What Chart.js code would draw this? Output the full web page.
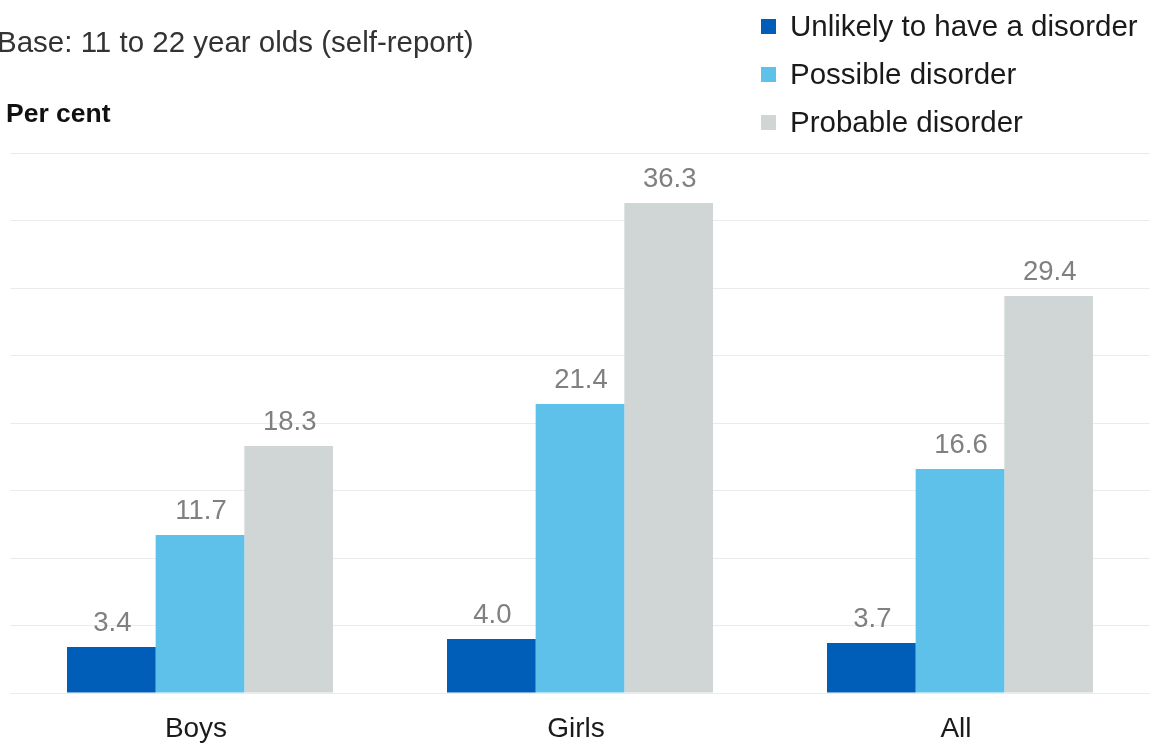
<!DOCTYPE html>
<html>
<head>
<meta charset="utf-8">
<script src="https://cdn.jsdelivr.net/npm/chart.js@4/dist/chart.umd.min.js"></script>
<style>
  body { margin: 0; background: #fff; }
  #wrap { width: 1150px; height: 744px; position: relative; }
</style>
</head>
<body>
<div id="wrap"><canvas id="chart"></canvas></div>
<script>
const categories = ['Boys', 'Girls', 'All'];
const seriesNames = ['Unlikely to have a disorder', 'Possible disorder', 'Probable disorder'];
const unlikely = [3.4, 4.0, 3.7];
const possible = [11.7, 21.4, 16.6];
const probable = [18.3, 36.3, 29.4];
const colours = ['#005EB8', '#5EC1EA', '#D0D6D6'];

const FONT = '"Liberation Sans", Arial, sans-serif';

// text above bars, title, axis caption and legend
const extras = {
    id: 'extras',
    afterDatasetsDraw(chart) {
        const ctx = chart.ctx;
        ctx.save();
        ctx.font = '27.5px ' + FONT;
        ctx.fillStyle = '#808080';
        ctx.textAlign = 'center';
        ctx.textBaseline = 'alphabetic';
        chart.data.datasets.forEach((ds, i) => {
            chart.getDatasetMeta(i).data.forEach((bar, j) => {
                ctx.fillText(ds.data[j].toFixed(1), bar.x + 1, bar.y - 16);
            });
        });
        ctx.restore();
    },
    afterDraw(chart) {
        const ctx = chart.ctx;
        ctx.save();
        ctx.textAlign = 'left';
        ctx.textBaseline = 'alphabetic';

        ctx.font = '29.5px ' + FONT;
        ctx.fillStyle = '#333333';
        ctx.fillText('Base: 11 to 22 year olds (self-report)', -3, 52);

        ctx.font = 'bold 26.5px ' + FONT;
        ctx.fillStyle = '#111111';
        ctx.fillText('Per cent', 6, 122);

        ctx.font = '29.5px ' + FONT;
        chart.data.datasets.forEach((ds, i) => {
            const cy = 26 + i * 48;
            ctx.fillStyle = ds.backgroundColor;
            ctx.fillRect(761, cy - 7, 15, 15);
            ctx.fillStyle = '#1a1a1a';
            ctx.fillText(ds.label, 790, cy + 10);
        });
        ctx.restore();
    }
};

new Chart(document.getElementById('chart'), {
    type: 'bar',
    data: {
        labels: categories,
        datasets: [
            { label: seriesNames[0], data: unlikely, backgroundColor: colours[0] },
            { label: seriesNames[1], data: possible, backgroundColor: colours[1] },
            { label: seriesNames[2], data: probable, backgroundColor: colours[2] }
        ]
    },
    options: {
        responsive: true,
        maintainAspectRatio: false,
        animation: false,
        layout: { padding: { top: 153, left: 10, right: 0, bottom: 0 } },
        datasets: {
            bar: { categoryPercentage: 0.7, barPercentage: 1.0, borderWidth: 0 }
        },
        plugins: {
            legend: { display: false },
            title: { display: false },
            tooltip: { enabled: false }
        },
        scales: {
            x: {
                grid: { display: false, drawTicks: false },
                border: { display: false },
                ticks: {
                    color: '#1a1a1a',
                    font: { family: FONT, size: 28 },
                    padding: 19,
                    labelOffset: -4
                },
                afterFit(scale) { scale.height = 51; }
            },
            y: {
                min: 0,
                max: 40,
                ticks: { display: false, stepSize: 5 },
                grid: { color: '#ebebeb', drawTicks: false, lineWidth: 1 },
                border: { display: false }
            }
        }
    },
    plugins: [extras]
});
</script>
</body>
</html>
